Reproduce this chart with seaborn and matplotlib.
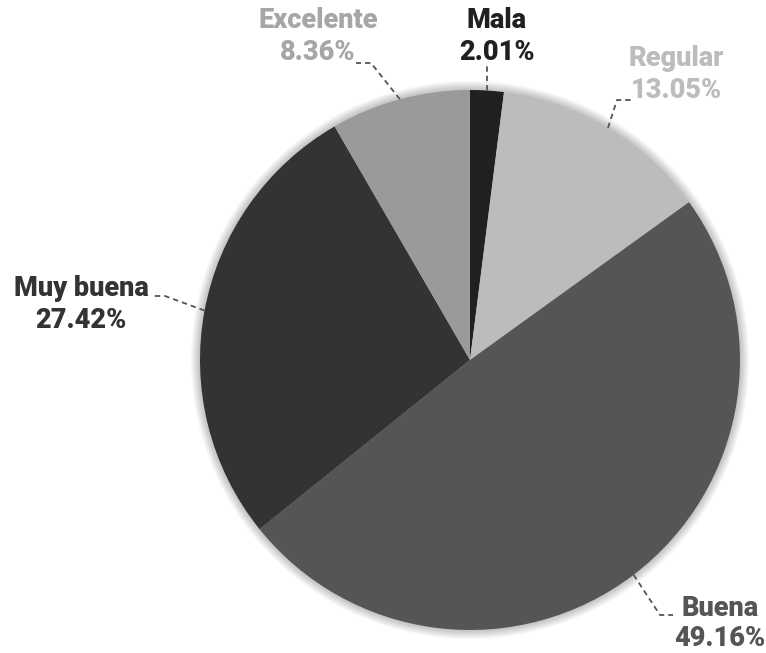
import numpy as np
import matplotlib
matplotlib.use("Agg")
import matplotlib.pyplot as plt
from matplotlib.patches import Circle
import seaborn as sns

# Ratings shares (%), clockwise from 12 o'clock
categories = ["Mala", "Regular", "Buena", "Muy buena", "Excelente"]
shares = [2.01, 13.05, 49.16, 27.42, 8.36]
slice_colors = ["#202020", "#bcbcbc", "#555555", "#333333", "#9a9a9a"]
label_colors = ["#202020", "#bcbcbc", "#555555", "#333333", "#a6a6a6"]

# Label text anchors (pixels from top-left) and leader-line elbows / ends
label_xy = [(497, 21), (676, 59), (720, 608), (81, 289), (318, 21)]
elbow_xy = [(487, 66), (617, 100), (660, 615), (165, 296), (371, 63)]
end_xy = [(487, 66), (632, 100), (673, 615), (152, 296), (356, 63)]

W, H = 766, 653
sns.set_theme(style="white")
plt.rcParams["font.family"] = ["Roboto", "DejaVu Sans"]

fig = plt.figure(figsize=(W / 100, H / 100), dpi=100)
ax = fig.add_axes([0, 0, 1, 1])

cx, cy, r = 470, H - 360, 270

# soft halo around the pie
for i in range(10):
    ax.add_patch(Circle((cx, cy), r + 1 + i * 0.9, color="black",
                        alpha=0.025, lw=0, zorder=0))

ax.pie(shares, colors=slice_colors, startangle=90,
       counterclock=False, center=(cx, cy), radius=r,
       wedgeprops=dict(linewidth=0), frame=True)
ax.set_xlim(0, W)
ax.set_ylim(0, H)
ax.set_aspect("equal")
ax.axis("off")

total = sum(shares)
cum = 0.0
for i, (name, v) in enumerate(zip(categories, shares)):
    mid = cum + v / 2
    cum += v
    ang = np.deg2rad(90 - mid / total * 360)
    px, py = cx + r * np.cos(ang), cy + r * np.sin(ang)
    ex, ey = elbow_xy[i]
    tx, ty = end_xy[i]
    ax.plot([px, ex, tx], [py, H - ey, H - ty], color="#555555", lw=1.3,
            ls=(0, (3, 2.2)), zorder=5)
    lx, ly = label_xy[i]
    ax.text(lx, H - ly, name, ha="center", va="center", fontsize=19.5,
            fontweight="heavy", color=label_colors[i])
    ax.text(lx, H - ly - 31, f"{v:.2f}%", ha="center", va="center",
            fontsize=19.5, fontweight="heavy", color=label_colors[i])

fig.savefig("out.png", dpi=100, facecolor="white")
